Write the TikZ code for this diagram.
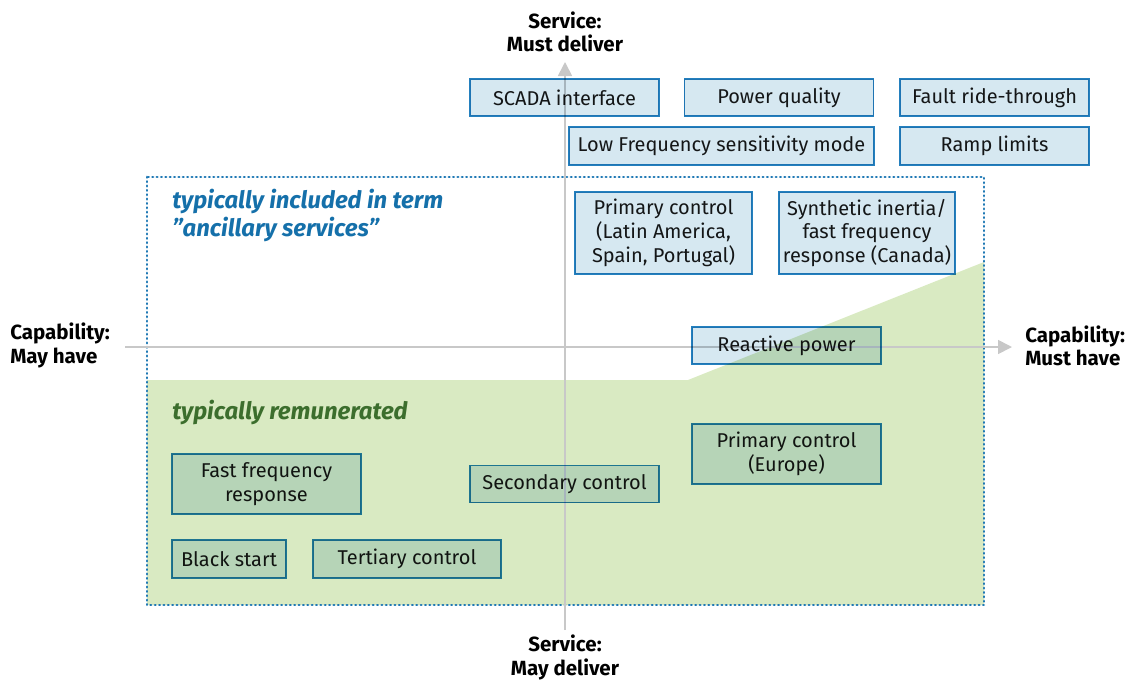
\documentclass[tikz,border=0pt]{standalone}
\usepackage{fontspec}
\setmainfont{Fira Sans}
\usetikzlibrary{arrows.meta}
\definecolor{remgreen}{RGB}{217,234,194}
\definecolor{boxfill}{RGB}{214,232,241}
\definecolor{boxline}{RGB}{36,128,190}
\definecolor{dotblue}{RGB}{30,120,180}
\definecolor{ancblue}{RGB}{21,112,170}
\definecolor{remtext}{RGB}{60,110,45}
\definecolor{axisgray}{RGB}{200,200,200}
\begin{document}
\begin{tikzpicture}[x=0.025cm, y=-0.025cm, >={Triangle[length=0.35cm,width=0.35cm]},
  box/.style={draw=boxline, line width=1.2pt, fill=boxfill, blend mode=multiply, align=center,
    inner sep=0pt, text=black!90, font=\fontsize{14.2}{17}\selectfont},
  wide/.style={box, minimum width=4.725cm, minimum height=0.925cm},
  tall/.style={box, minimum width=4.725cm, minimum height=1.5cm},
  axislabel/.style={font=\fontsize{14.6}{16.5}\selectfont\bfseries, inner sep=0pt},
  tag/.style={font=\fontsize{17}{20.5}\selectfont\bfseries\itshape, inner sep=0pt, align=left, anchor=west}]
  \useasboundingbox (0,0) rectangle (1131,679);

  % remunerated area and dotted frame
  \fill[remgreen] (147,380) -- (688,380) -- (984,262) -- (984,605) -- (147,605) -- cycle;
  \draw[dotblue, line width=1.9pt, line cap=round, dash pattern=on 0.4pt off 2.7pt] (147,177) rectangle (984,605);

  % axes
  \coordinate (sbot) at (565,630);
  \coordinate (stop) at (565,62);
  \coordinate (cleft) at (125,347);
  \coordinate (cright) at (1012,347);
  \draw[->, axisgray, line width=1.2pt] (sbot) -- (stop);
  \draw[->, axisgray, line width=1.2pt] (cleft) -- (cright);

  % services
  \node[wide] (scada) at (564.5,97.5) {SCADA interface};
  \node[wide] (pq) at (779,97.5) {Power quality};
  \node[wide] (frt) at (994.5,97.5) {Fault ride-through};
  \node[box, minimum width=7.625cm, minimum height=0.95cm] (lfsm) at (721.5,146) {Low Frequency sensitivity mode};
  \node[wide, minimum height=0.95cm] (ramp) at (994.5,146) {Ramp limits};
  \node[box, minimum width=4.425cm, minimum height=2.05cm] (pcla) at (663.5,233) {Primary control\\(Latin America,\\Spain, Portugal)};
  \node[box, minimum width=4.4cm, minimum height=2.05cm] (synth) at (867,233) {Synthetic inertia/\\fast frequency\\response (Canada)};
  \node[wide] (react) at (786.5,345.5) {Reactive power};
  \node[tall] (pceu) at (786.5,454) {Primary control\\(Europe)};
  \node[wide] (sec) at (564.5,484) {Secondary control};
  \node[tall] (ffr) at (266.5,484) {Fast frequency\\response};
  \node[box, minimum width=2.85cm, minimum height=0.95cm] (black) at (229,559) {Black start};
  \node[wide, minimum width=4.7cm, minimum height=0.95cm] (tert) at (407,559) {Tertiary control};

  % labels
  \node[tag, text=ancblue] (anc) at (172,215.5) {typically included in term\\\char"201Dancillary services\char"201D};
  \node[tag, text=remtext] (rem) at (172,412) {typically remunerated};
  \node[axislabel, align=center] (must) at (565,32) {Service:\\Must deliver};
  \node[axislabel, align=center] (may) at (565,657.5) {Service:\\May deliver};
  \node[axislabel, align=left, anchor=west] (mayhave) at (10,345.5) {Capability:\\May have};
  \node[axislabel, align=left, anchor=west] (musthave) at (1025,345.5) {Capability:\\Must have};
\end{tikzpicture}
\end{document}
